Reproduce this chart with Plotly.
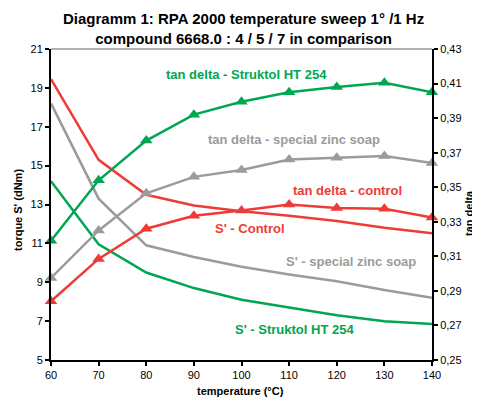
import plotly.graph_objects as go

temperature = [60, 70, 80, 90, 100, 110, 120, 130, 140]

s_control = [19.45, 15.3, 13.5, 12.95, 12.65, 12.42, 12.15, 11.8, 11.52]
s_zinc = [18.2, 13.3, 10.9, 10.3, 9.8, 9.4, 9.05, 8.6, 8.2]
s_struktol = [14.2, 10.95, 9.5, 8.7, 8.1, 7.7, 7.3, 7.0, 6.85]

tan_control = [0.284, 0.3085, 0.326, 0.3335, 0.3365, 0.340, 0.338, 0.3375, 0.3325]
tan_zinc = [0.2975, 0.325, 0.3465, 0.356, 0.360, 0.366, 0.367, 0.368, 0.364]
tan_struktol = [0.319, 0.354, 0.377, 0.392, 0.3995, 0.405, 0.408, 0.4105, 0.405]

left_ticks = [5, 7, 9, 11, 13, 15, 17, 19, 21]
right_ticks = [0.25, 0.27, 0.29, 0.31, 0.33, 0.35, 0.37, 0.39, 0.41, 0.43]
x_ticks = [60, 70, 80, 90, 100, 110, 120, 130, 140]

RED = "#EE3B36"
GRAY = "#9B9B9B"
GREEN = "#00A650"
FONT = "Liberation Sans, Arial, sans-serif"

fig = go.Figure()

for ys, col in [(s_control, RED), (s_zinc, GRAY), (s_struktol, GREEN)]:
    fig.add_trace(go.Scatter(x=temperature, y=ys, mode="lines",
                             line=dict(color=col, width=2.5), yaxis="y", showlegend=False))
for ys, col in [(tan_control, RED), (tan_zinc, GRAY), (tan_struktol, GREEN)]:
    fig.add_trace(go.Scatter(x=temperature, y=ys, mode="lines+markers",
                             line=dict(color=col, width=2.5),
                             marker=dict(symbol="triangle-up", size=11, color=col),
                             yaxis="y2", showlegend=False, cliponaxis=False))

ax_font = dict(family=FONT, size=11, color="#000")
common = dict(showgrid=False, zeroline=False, showline=True, linecolor="#000", linewidth=2,
              tickcolor="#000", tickwidth=2, ticklen=4, tickfont=ax_font, automargin=False)
inner = dict(showticklabels=False, showgrid=False, zeroline=False, showline=False,
             tickcolor="#000", tickwidth=2, ticklen=4, ticks="inside")

# page body has an 8px margin, so the figure is laid out 8px up/left of window coords
fig.update_layout(
    width=472, height=390,
    margin=dict(l=43, r=48, t=41, b=38, autoexpand=False),
    paper_bgcolor="white", plot_bgcolor="white",
    separators=",.",
    xaxis=dict(range=[60, 140], tickvals=x_ticks, ticks="outside", **common),
    xaxis2=dict(range=[60, 140], tickvals=x_ticks, overlaying="x", anchor="y", side="bottom", **inner),
    yaxis=dict(range=[5, 21], tickvals=left_ticks, ticks="outside", **common),
    yaxis2=dict(range=[0.25, 0.43], tickvals=right_ticks, tickformat=".2f", ticks="outside",
                overlaying="y", side="right", anchor="x", **common),
    yaxis3=dict(range=[5, 21], tickvals=left_ticks, overlaying="y", side="left", anchor="x", **inner),
    yaxis4=dict(range=[0.25, 0.43], tickvals=right_ticks, overlaying="y", side="right", anchor="x", **inner),
    shapes=[dict(type="line", xref="paper", yref="paper", x0=0, x1=1, y0=1, y1=1,
                 line=dict(color="#B0B0B0", width=2), layer="below")],
)

# window-pixel helpers (plot area in window: x 51..432, y 49..360)
def px(xp):
    return (xp - 51) / 381.0

def py(yp):
    return (360 - yp) / 311.0

fig.add_annotation(x=px(243), y=py(28), xref="paper", yref="paper", showarrow=False,
                   text="<b>Diagramm 1: RPA 2000 temperature sweep 1° /1 Hz<br>compound 6668.0 : 4 / 5 / 7 in comparison</b>",
                   font=dict(family=FONT, size=15, color="#000"), xanchor="center", yanchor="middle")
fig.add_annotation(x=px(240), y=py(398), xref="paper", yref="paper", showarrow=False,
                   text="<b>temperature (°C)</b>", font=dict(family=FONT, size=11, color="#000"),
                   xanchor="center", yanchor="bottom", borderpad=0)
fig.add_annotation(x=px(18), y=py(210), xref="paper", yref="paper", showarrow=False, textangle=-90,
                   text="<b>torque S' (dNm)</b>", font=dict(family=FONT, size=11, color="#000"),
                   xanchor="center", yanchor="middle")
fig.add_annotation(x=px(469), y=py(213), xref="paper", yref="paper", showarrow=False, textangle=-90,
                   text="<b>tan delta</b>", font=dict(family=FONT, size=11, color="#000"),
                   xanchor="center", yanchor="middle")

labels = [
    ("tan delta - Struktol HT 254", 101.0, 19.71, GREEN),
    ("tan delta - special zinc soap", 111.0, 16.37, GRAY),
    ("tan delta - control", 122.3, 13.72, RED),
    ("S' - Control", 101.8, 11.77, RED),
    ("S' - special zinc soap", 123.0, 10.09, GRAY),
    ("S' - Struktol HT 254", 111.2, 6.55, GREEN),
]
for txt, lx, ly, col in labels:
    fig.add_annotation(x=lx, y=ly, xref="x", yref="y", text="<b>" + txt + "</b>", showarrow=False,
                       font=dict(family=FONT, size=13, color=col))

fig.write_html("out.html")
